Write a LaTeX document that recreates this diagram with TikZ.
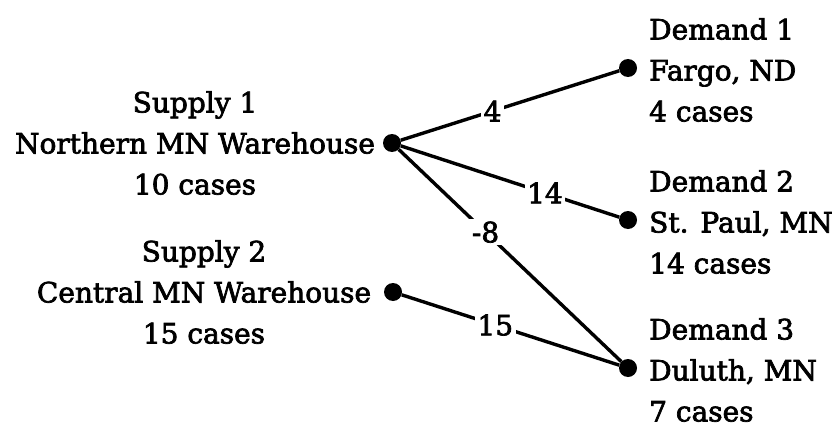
\documentclass[tikz,border=0pt]{standalone}
\usepackage{fontspec}
\setmainfont{DejaVu Serif}
\newfontfamily\heavyserif{DejaVu Serif}[FakeBold=2.5]
\begin{document}
\begin{tikzpicture}[x=1pt,y=-1pt,
  dot/.style={circle,fill=black,inner sep=0pt,minimum size=18pt},
  txt/.style={font=\heavyserif\fontsize{28}{41}\selectfont,inner sep=0pt},
  lab/.style={font=\heavyserif\fontsize{28}{30}\selectfont,fill=white,inner sep=2.5pt},
  conn/.style={line width=3.4pt}]
\useasboundingbox (0,0) rectangle (835,428);
\node[dot] (s1) at (392,143) {};
\node[dot] (s2) at (393,292) {};
\node[dot] (d1) at (628,68) {};
\node[dot] (d2) at (628,220) {};
\node[dot] (d3) at (628,368) {};
\node[txt,align=center] (ts1) at (195,143) {Supply 1\\Northern MN Warehouse\\10 cases};
\node[txt,align=center] (ts2) at (204,292) {Supply 2\\Central MN Warehouse\\15 cases};
\node[txt,align=left,anchor=west] (td1) at (649,70) {Demand 1\\Fargo, ND\\4 cases};
\node[txt,align=left,anchor=west] (td2) at (649,222) {Demand 2\\St. Paul, MN\\14 cases};
\node[txt,align=left,anchor=west] (td3) at (649,370) {Demand 3\\Duluth, MN\\7 cases};
\draw[conn] (s1) -- node[lab,pos=.42] {4} (d1);
\draw[conn] (s1) -- node[lab,pos=.66] {14} (d2);
\draw[conn] (s1) -- node[lab,pos=.39] {-8} (d3);
\draw[conn] (s2) -- node[lab,pos=.43] {15} (d3);
\end{tikzpicture}
\end{document}
